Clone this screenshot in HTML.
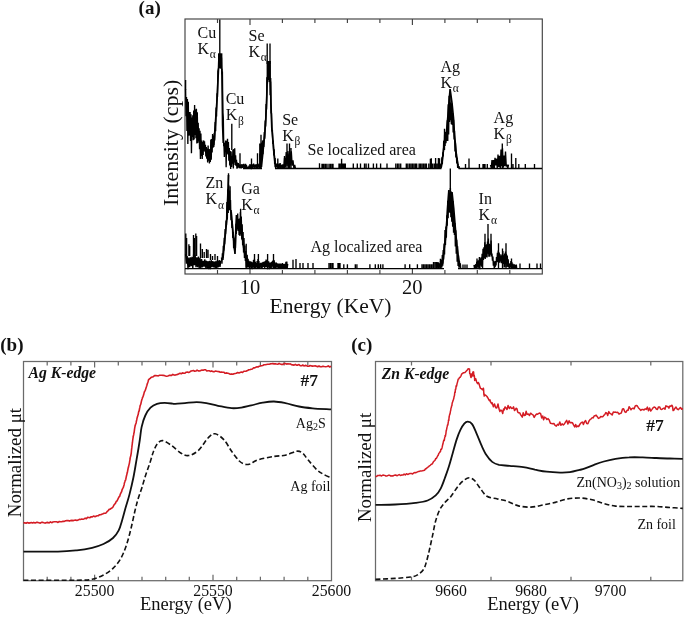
<!DOCTYPE html>
<html><head><meta charset="utf-8"><style>
html,body{margin:0;padding:0;background:#fff;}
svg{display:block;will-change:transform;}
text{font-family:"Liberation Serif",serif;fill:#111;}
</style></head><body>
<svg width="685" height="618" viewBox="0 0 685 618">
<rect x="185" y="19" width="357.29999999999995" height="255" fill="none" stroke="#404040" stroke-width="1.15"/><g stroke="#404040" stroke-width="1.15"><line x1="217.5" y1="19" x2="217.5" y2="23" /><line x1="217.5" y1="274" x2="217.5" y2="270" /><line x1="250.0" y1="19" x2="250.0" y2="25" /><line x1="250.0" y1="274" x2="250.0" y2="268" /><line x1="282.4" y1="19" x2="282.4" y2="23" /><line x1="282.4" y1="274" x2="282.4" y2="270" /><line x1="314.9" y1="19" x2="314.9" y2="23" /><line x1="314.9" y1="274" x2="314.9" y2="270" /><line x1="347.4" y1="19" x2="347.4" y2="23" /><line x1="347.4" y1="274" x2="347.4" y2="270" /><line x1="379.9" y1="19" x2="379.9" y2="23" /><line x1="379.9" y1="274" x2="379.9" y2="270" /><line x1="412.4" y1="19" x2="412.4" y2="25" /><line x1="412.4" y1="274" x2="412.4" y2="268" /><line x1="444.9" y1="19" x2="444.9" y2="23" /><line x1="444.9" y1="274" x2="444.9" y2="270" /><line x1="477.3" y1="19" x2="477.3" y2="23" /><line x1="477.3" y1="274" x2="477.3" y2="270" /><line x1="509.8" y1="19" x2="509.8" y2="23" /><line x1="509.8" y1="274" x2="509.8" y2="270" /></g><rect x="23.5" y="361.5" width="308.0" height="219.20000000000005" fill="none" stroke="#6a6a6a" stroke-width="1.25"/><g stroke="#6a6a6a" stroke-width="1.25"><line x1="47.2" y1="361.5" x2="47.2" y2="365.5" /><line x1="47.2" y1="580.7" x2="47.2" y2="576.7" /><line x1="70.9" y1="361.5" x2="70.9" y2="365.5" /><line x1="70.9" y1="580.7" x2="70.9" y2="576.7" /><line x1="94.6" y1="361.5" x2="94.6" y2="367.5" /><line x1="94.6" y1="580.7" x2="94.6" y2="574.7" /><line x1="118.3" y1="361.5" x2="118.3" y2="365.5" /><line x1="118.3" y1="580.7" x2="118.3" y2="576.7" /><line x1="142.0" y1="361.5" x2="142.0" y2="365.5" /><line x1="142.0" y1="580.7" x2="142.0" y2="576.7" /><line x1="165.7" y1="361.5" x2="165.7" y2="365.5" /><line x1="165.7" y1="580.7" x2="165.7" y2="576.7" /><line x1="189.3" y1="361.5" x2="189.3" y2="365.5" /><line x1="189.3" y1="580.7" x2="189.3" y2="576.7" /><line x1="213.0" y1="361.5" x2="213.0" y2="367.5" /><line x1="213.0" y1="580.7" x2="213.0" y2="574.7" /><line x1="236.7" y1="361.5" x2="236.7" y2="365.5" /><line x1="236.7" y1="580.7" x2="236.7" y2="576.7" /><line x1="260.4" y1="361.5" x2="260.4" y2="365.5" /><line x1="260.4" y1="580.7" x2="260.4" y2="576.7" /><line x1="284.1" y1="361.5" x2="284.1" y2="365.5" /><line x1="284.1" y1="580.7" x2="284.1" y2="576.7" /><line x1="307.8" y1="361.5" x2="307.8" y2="365.5" /><line x1="307.8" y1="580.7" x2="307.8" y2="576.7" /></g><rect x="375.5" y="361.5" width="307.29999999999995" height="219.20000000000005" fill="none" stroke="#6a6a6a" stroke-width="1.25"/><g stroke="#6a6a6a" stroke-width="1.25"><line x1="411.5" y1="361.5" x2="411.5" y2="365.5" /><line x1="411.5" y1="580.7" x2="411.5" y2="576.7" /><line x1="491" y1="361.5" x2="491" y2="365.5" /><line x1="491" y1="580.7" x2="491" y2="576.7" /><line x1="571" y1="361.5" x2="571" y2="365.5" /><line x1="571" y1="580.7" x2="571" y2="576.7" /><line x1="650.8" y1="361.5" x2="650.8" y2="365.5" /><line x1="650.8" y1="580.7" x2="650.8" y2="576.7" /></g><path d="M185.60,89.2 L186.05,116.2 L186.50,97.0 L186.95,131.1 L187.40,98.9 L187.85,144.1 L188.30,101.8 L188.75,135.8 L189.20,112.0 L189.65,135.5 L190.10,112.1 L190.55,141.0 L191.00,114.2 L191.45,153.3 L191.90,117.6 L192.35,137.0 L192.80,115.3 L193.25,140.2 L193.70,110.6 L194.15,139.6 L194.60,105.0 L195.05,135.0 L195.50,109.4 L195.95,138.3 L196.40,108.8 L196.85,143.4 L197.30,112.3 L197.75,143.1 L198.20,122.8 L198.65,141.5 L199.10,128.2 L199.55,149.3 L200.00,130.8 L200.45,159.1 L200.90,133.6 L201.35,155.9 L201.80,140.5 L202.25,159.0 L202.70,141.9 L203.15,154.9 L203.60,140.4 L204.05,150.7 L204.50,141.2 L204.95,151.8 L205.40,144.7 L205.85,156.4 L206.30,147.0 L206.75,158.6 L207.20,148.5 L207.65,162.5 L208.10,145.5 L208.55,160.7 L209.00,148.9 L209.45,163.6 L209.90,149.2 L210.35,161.9 L210.80,139.5 L211.25,159.7 L211.70,138.9 L212.15,152.6 L212.60,133.9 L213.05,147.8 L213.50,136.0" fill="none" stroke="#000" stroke-width="1.35" stroke-linejoin="bevel"/><path d="M213.40,135.5 L213.85,144.9 L214.30,133.0 L214.75,140.5 L215.20,122.0 L215.65,131.2 L216.10,107.6 L216.55,116.5 L217.00,93.2 L217.45,97.2 L217.90,71.3 L218.35,69.8 L218.80,56.1 L219.25,65.4 L219.70,54.4 L220.15,64.7 L220.60,53.9 L221.05,68.5 L221.50,57.5 L221.95,74.6 L222.40,71.4 L222.85,112.7 L223.30,117.7 L223.75,146.3" fill="none" stroke="#000" stroke-width="1.35" stroke-linejoin="bevel"/><path d="M223.90,142.4 L224.35,157.1 L224.80,142.9 L225.25,151.1 L225.70,140.5 L226.15,167.2 L226.60,140.8 L227.05,154.6 L227.50,138.7 L227.95,153.6 L228.40,142.1 L228.85,160.7 L229.30,148.1 L229.75,165.5 L230.20,151.1 L230.65,168.9 L231.10,151.5 L231.55,167.0 L232.00,156.0 L232.45,163.8 L232.90,149.8 L233.35,168.5 L233.80,149.0 L234.25,162.6 L234.70,148.3 L235.15,165.0 L235.60,155.4 L236.05,165.9 L236.50,159.9 L236.95,168.8 L237.40,162.6 L237.85,168.1 L238.30,163.1 L238.75,167.5 L239.20,164.4 L239.65,167.9 L240.10,164.4 L240.55,168.0 L241.00,164.8 L241.45,168.5 L241.90,164.1 L242.35,167.9 L242.80,164.6 L243.25,167.7 L243.70,163.9 L244.15,168.4 L244.60,164.6 L245.05,168.5 L245.50,163.8 L245.95,169.0 L246.40,164.9 L246.85,168.3 L247.30,166.8 L247.75,168.7 L248.20,166.7 L248.65,168.5 L249.10,165.6 L249.55,168.5 L250.00,164.0 L250.45,168.2 L250.90,164.8 L251.35,169.1 L251.80,164.5 L252.25,168.6 L252.70,164.4 L253.15,167.8 L253.60,163.6 L254.05,167.6 L254.50,164.6 L254.95,168.6 L255.40,164.6 L255.85,167.5 L256.30,164.2 L256.75,168.3 L257.20,164.2 L257.65,168.0 L258.10,164.4 L258.55,167.5 L259.00,163.7 L259.45,168.7" fill="none" stroke="#000" stroke-width="1.35" stroke-linejoin="bevel"/><path d="M259.80,153.8 L260.25,167.8 L260.70,151.7 L261.15,167.5 L261.60,142.6 L262.05,155.2 L262.50,140.5 L262.95,154.3 L263.40,140.1 L263.85,147.0 L264.30,132.1 L264.75,138.8 L265.20,120.6 L265.65,126.6 L266.10,103.9 L266.55,109.6 L267.00,77.1 L267.45,83.5 L267.90,64.8 L268.35,80.0 L268.80,65.5 L269.25,82.1 L269.70,64.4 L270.15,95.2 L270.60,81.5 L271.05,113.2 L271.50,113.3 L271.95,131.6 L272.40,130.0 L272.85,144.1 L273.30,140.6 L273.75,155.6 L274.20,149.2 L274.65,164.1 L275.10,158.1 L275.55,168.2 L276.00,164.2" fill="none" stroke="#000" stroke-width="1.35" stroke-linejoin="bevel"/><path d="M276.00,163.3 L276.85,167.4 L277.70,163.6 L278.55,168.6 L279.40,163.6 L280.25,167.8 L281.10,164.7 L281.95,168.6 L282.80,164.3 L283.65,168.8 L284.50,157.9 L285.35,167.7 L286.20,152.0 L287.05,165.9 L287.90,151.1 L288.75,168.6 L289.60,151.6 L290.45,165.5 L291.30,151.2 L292.15,165.6 L293.00,160.3 L293.85,168.4 L294.70,164.9 L295.55,168.9" fill="none" stroke="#000" stroke-width="1.35" stroke-linejoin="bevel"/><path d="M439.20,163.1 L439.65,169.0 L440.10,164.2 L440.55,167.8 L441.00,163.6 L441.45,167.2 L441.90,157.3 L442.35,164.1 L442.80,152.2 L443.25,156.6 L443.70,140.8 L444.15,150.1 L444.60,134.6 L445.05,146.0 L445.50,132.1 L445.95,143.1 L446.40,132.2 L446.85,141.1 L447.30,120.3 L447.75,141.0 L448.20,104.2 L448.65,134.6 L449.10,95.7 L449.55,122.1 L450.00,93.4 L450.45,120.3 L450.90,102.4 L451.35,124.3 L451.80,103.5 L452.25,125.1 L452.70,112.9 L453.15,132.4 L453.60,119.8 L454.05,139.6 L454.50,130.9 L454.95,151.5 L455.40,143.0 L455.85,157.4 L456.30,152.3 L456.75,163.5 L457.20,157.8 L457.65,167.9 L458.10,164.0 L458.55,168.2 L459.00,166.2 L459.45,168.7" fill="none" stroke="#000" stroke-width="1.35" stroke-linejoin="bevel"/><path d="M490.50,164.8 L491.25,167.9 L492.00,160.0 L492.75,168.4 L493.50,160.1 L494.25,168.5 L495.00,157.7 L495.75,165.3 L496.50,158.7 L497.25,167.9 L498.00,154.6 L498.75,167.0 L499.50,155.9 L500.25,168.6 L501.00,149.6 L501.75,166.1 L502.50,148.4 L503.25,167.8 L504.00,155.6 L504.75,166.3 L505.50,151.6 L506.25,166.4 L507.00,164.7 L507.75,168.8 L508.50,164.6" fill="none" stroke="#000" stroke-width="1.35" stroke-linejoin="bevel"/><path d="M185.60,254.2 L186.40,263.6 L187.20,256.1 L188.00,269.1 L188.80,257.6 L189.60,267.3 L190.40,257.3 L191.20,266.3 L192.00,256.8 L192.80,268.6 L193.60,254.4 L194.40,265.2 L195.20,255.2 L196.00,267.3 L196.80,257.2 L197.60,267.2 L198.40,256.5 L199.20,268.6 L200.00,257.8 L200.80,268.6 L201.60,259.1 L202.40,267.3 L203.20,260.8 L204.00,266.7 L204.80,259.3 L205.60,267.8 L206.40,260.7 L207.20,268.8 L208.00,261.0 L208.80,269.1 L209.60,260.9 L210.40,269.1 L211.20,260.2 L212.00,267.2 L212.80,261.1 L213.60,267.4 L214.40,261.5 L215.20,268.3 L216.00,260.9 L216.80,268.8 L217.60,260.8 L218.40,267.3 L219.20,260.0 L220.00,266.9 L220.80,260.7" fill="none" stroke="#000" stroke-width="1.35" stroke-linejoin="bevel"/><path d="M221.50,257.5 L221.95,263.8 L222.40,253.4 L222.85,258.0 L223.30,245.8 L223.75,250.8 L224.20,237.7 L224.65,244.3 L225.10,229.0 L225.55,234.1 L226.00,220.4 L226.45,225.3 L226.90,202.0 L227.35,219.6 L227.80,189.3 L228.25,213.0 L228.70,184.7 L229.15,209.9 L229.60,190.6 L230.05,210.4 L230.50,200.1 L230.95,220.2 L231.40,212.1 L231.85,227.9 L232.30,220.7 L232.75,238.0 L233.20,231.9 L233.65,248.2 L234.10,239.5 L234.55,250.4 L235.00,237.8 L235.45,248.0 L235.90,223.7 L236.35,233.9 L236.80,217.5 L237.25,229.4 L237.70,213.6 L238.15,231.0 L238.60,218.8 L239.05,234.9 L239.50,220.4 L239.95,236.0 L240.40,211.9 L240.85,234.5 L241.30,216.6 L241.75,239.4 L242.20,224.2 L242.65,245.3 L243.10,232.0 L243.55,252.5 L244.00,237.9 L244.45,258.1 L244.90,245.6 L245.35,261.0 L245.80,251.0 L246.25,267.6" fill="none" stroke="#000" stroke-width="1.35" stroke-linejoin="bevel"/><path d="M246.30,256.1 L246.75,266.9 L247.20,254.8 L247.65,267.6 L248.10,258.9 L248.55,267.0 L249.00,260.7 L249.45,268.7 L249.90,261.5 L250.35,267.4 L250.80,261.2 L251.25,269.0 L251.70,262.0 L252.15,269.2 L252.60,262.6 L253.05,267.0 L253.50,260.1 L253.95,268.4 L254.40,258.8 L254.85,266.6 L255.30,261.8 L255.75,267.9 L256.20,263.0 L256.65,267.2 L257.10,261.1 L257.55,268.4 L258.00,259.0 L258.45,266.8 L258.90,261.0 L259.35,269.0 L259.80,263.2 L260.25,267.4 L260.70,262.8 L261.15,268.7 L261.60,262.8 L262.05,268.6 L262.50,262.3 L262.95,267.3 L263.40,261.8 L263.85,267.0 L264.30,261.7 L264.75,268.0 L265.20,261.0 L265.65,266.9 L266.10,259.6 L266.55,266.9 L267.00,260.4 L267.45,269.2 L267.90,261.0 L268.35,266.9 L268.80,261.5 L269.25,269.1 L269.70,262.7 L270.15,268.7 L270.60,262.5 L271.05,268.1 L271.50,262.1 L271.95,267.8 L272.40,261.0 L272.85,266.4 L273.30,260.0 L273.75,268.7 L274.20,260.2 L274.65,268.0 L275.10,263.2 L275.55,268.0 L276.00,262.4 L276.45,267.6 L276.90,263.0 L277.35,267.3 L277.80,263.7 L278.25,268.8 L278.70,263.6 L279.15,268.9 L279.60,263.6 L280.05,268.1 L280.50,263.6 L280.95,268.3 L281.40,264.1 L281.85,268.8 L282.30,263.1 L282.75,269.0 L283.20,263.8 L283.65,268.8 L284.10,263.9 L284.55,268.1 L285.00,264.0 L285.45,268.9 L285.90,261.8 L286.35,268.6 L286.80,261.5 L287.25,267.9 L287.70,264.0" fill="none" stroke="#000" stroke-width="1.35" stroke-linejoin="bevel"/><path d="M436.00,262.1 L436.45,267.9 L436.90,262.7 L437.35,267.2 L437.80,262.6 L438.25,268.5 L438.70,263.0 L439.15,267.7 L439.60,263.5 L440.05,268.5 L440.50,261.3 L440.95,268.3 L441.40,259.6 L441.85,267.5 L442.30,255.1 L442.75,265.7 L443.20,249.9 L443.65,259.5 L444.10,243.6 L444.55,254.5 L445.00,230.0 L445.45,244.9 L445.90,226.6 L446.35,237.8 L446.80,215.2 L447.25,225.8 L447.70,200.7 L448.15,218.3 L448.60,190.6 L449.05,212.5 L449.50,192.4 L449.95,212.8 L450.40,187.9 L450.85,217.3 L451.30,191.5 L451.75,221.7 L452.20,197.5 L452.65,226.7 L453.10,201.0 L453.55,232.8 L454.00,213.3 L454.45,235.0 L454.90,223.1 L455.35,246.6 L455.80,230.2 L456.25,253.8 L456.70,239.8 L457.15,261.8 L457.60,246.2 L458.05,265.9 L458.50,255.2 L458.95,267.7 L459.40,260.9 L459.85,267.8 L460.30,263.3 L460.75,268.7" fill="none" stroke="#000" stroke-width="1.35" stroke-linejoin="bevel"/><path d="M474.00,264.9 L474.45,268.2 L474.90,265.0 L475.35,268.2 L475.80,264.1 L476.25,268.1 L476.70,261.9 L477.15,266.7 L477.60,260.6 L478.05,267.4 L478.50,260.4 L478.95,268.4 L479.40,257.0 L479.85,269.2 L480.30,258.4 L480.75,265.5 L481.20,257.3 L481.65,266.7 L482.10,253.8 L482.55,269.1 L483.00,248.7 L483.45,260.0 L483.90,247.3 L484.35,258.2 L484.80,242.2 L485.25,258.9 L485.70,245.1 L486.15,257.3 L486.60,244.2 L487.05,257.4 L487.50,241.4 L487.95,253.7 L488.40,238.6 L488.85,256.8 L489.30,243.7 L489.75,256.6 L490.20,244.6 L490.65,254.7 L491.10,240.5 L491.55,256.5 L492.00,253.6 L492.45,260.8 L492.90,256.6 L493.35,265.6 L493.80,260.7 L494.25,268.5 L494.70,261.5 L495.15,267.3 L495.60,261.1 L496.05,265.4 L496.50,257.1 L496.95,261.8 L497.40,252.9 L497.85,262.3 L498.30,250.6 L498.75,261.7 L499.20,252.5 L499.65,262.6 L500.10,254.2 L500.55,261.4 L501.00,255.9 L501.45,263.2 L501.90,254.6 L502.35,260.9 L502.80,251.1 L503.25,263.9 L503.70,255.2 L504.15,267.6 L504.60,253.6 L505.05,267.0 L505.50,251.5 L505.95,264.3 L506.40,253.7 L506.85,267.1 L507.30,255.5 L507.75,266.8 L508.20,259.4 L508.65,267.4 L509.10,263.7 L509.55,268.7 L510.00,263.4 L510.45,267.2 L510.90,261.0 L511.35,268.7 L511.80,262.0 L512.25,268.7 L512.70,263.5 L513.15,268.4 L513.60,264.3 L514.05,268.9 L514.50,264.4 L514.95,268.7 L515.40,265.1 L515.85,268.2 L516.30,264.6 L516.75,268.8" fill="none" stroke="#000" stroke-width="1.35" stroke-linejoin="bevel"/><path d="M185.6,90 V80.0 M219.8,56 V19.5 M267.2,64 V43.4 M270.0,64 V43.4 M231.8,150 V123.8 M240.0,168.5 V153.3 M251.5,168.5 V158.4 M257.5,168.5 V153.3 M259.8,168.5 V143.6 M261.0,168.5 V134.7 M277.8,168.5 V158.5 M280.2,168.5 V163.0 M287.0,168.5 V143.6 M289.5,168.5 V143.6 M284.5,168.5 V156.0 M291.0,168.5 V148.0 M444.5,150 V128.7 M319.5,168.5 V163.3 M322.0,168.5 V163.8 M323.0,168.5 V163.8 M324.0,168.5 V163.8 M325.5,168.5 V163.8 M327.0,168.5 V163.8 M329.0,168.5 V163.8 M330.5,168.5 V163.8 M332.0,168.5 V163.8 M333.0,168.5 V163.8 M339.0,168.5 V163.6 M340.2,168.5 V163.6 M341.6,168.5 V158.8 M342.8,168.5 V163.6 M344.0,168.5 V163.6 M345.3,168.5 V163.6 M353.3,168.5 V163.6 M357.3,168.5 V163.6 M360.5,168.5 V163.6 M364.5,168.5 V163.6 M366.1,168.5 V163.6 M368.5,168.5 V163.6 M373.4,168.5 V163.6 M376.6,168.5 V163.6 M380.6,168.5 V163.6 M387.0,168.5 V163.6 M395.8,168.5 V163.6 M397.5,168.5 V163.6 M399.0,168.5 V163.6 M400.7,168.5 V163.6 M406.3,168.5 V163.6 M407.8,168.5 V163.6 M409.5,168.5 V163.6 M411.0,168.5 V163.6 M412.5,168.5 V163.6 M414.0,168.5 V163.6 M415.5,168.5 V163.6 M416.7,168.5 V163.6 M419.1,168.5 V163.6 M420.5,168.5 V163.6 M422.0,168.5 V163.6 M423.5,168.5 V163.6 M425.0,168.5 V163.6 M426.4,168.5 V163.6 M428.8,168.5 V163.6 M430.4,168.5 V158.8 M431.3,168.5 V158.2 M432.7,168.5 V163.6 M434.4,168.5 V163.6 M435.6,168.5 V158.0 M437.0,168.5 V163.6 M438.4,168.5 V158.0 M439.5,168.5 V158.3 M465.5,168.5 V163.9 M469.0,168.5 V158.6 M479.4,168.5 V163.9 M483.0,168.5 V163.9 M484.0,168.5 V163.9 M485.0,168.5 V163.9 M487.3,168.5 V163.9 M502.3,168.5 V143.4 M511.5,168.5 V153.4 M513.0,168.5 V163.9 M515.8,168.5 V158.0 M518.8,168.5 V163.9 M525.3,168.5 V163.9 M534.5,168.5 V163.9 M185.8,256 V233.6 M186.6,256 V238.0 M188.9,256 V244.2 M189.7,256 V246.0 M193.5,256 V235.0 M194.3,256 V238.0 M195.8,256 V233.6 M196.6,256 V236.0 M200.5,258 V243.5 M202.3,258 V249.0 M204.2,258 V252.0 M206.5,258 V249.0 M208.0,258 V249.8 M210.5,260 V254.0 M212.5,260 V256.0 M215.0,260 V254.0 M217.5,262 V256.0 M228.5,200 V173.2 M230.1,210 V186.2 M240.6,225 V208.8 M246.2,268.6 V243.8 M254.5,268.6 V254.0 M258.4,268.6 V254.0 M267.6,268.6 V254.0 M273.5,268.6 V254.0 M450.3,194 V168.5 M477.0,268.6 V258.6 M485.0,250 V233.7 M488.0,250 V224.1 M491.0,250 V233.7 M498.5,268.6 V243.3 M502.5,268.6 V248.6 M506.0,268.6 V243.3 M511.5,268.6 V258.6 M293.0,268.6 V259.8 M296.0,268.6 V259.0 M300.0,268.6 V263.0 M303.0,268.6 V263.0 M308.0,268.6 V263.0 M313.0,268.6 V263.0 M329.0,268.6 V263.0 M330.5,268.6 V263.0 M332.0,268.6 V263.0 M333.0,268.6 V263.0 M338.0,268.6 V263.0 M339.0,268.6 V263.0 M340.0,268.6 V263.0 M343.8,268.6 V264.2 M347.4,268.6 V264.2 M355.3,268.6 V264.2 M356.9,268.6 V264.2 M369.9,268.6 V264.2 M375.3,268.6 V264.2 M378.3,268.6 V264.2 M380.6,268.6 V264.2 M382.9,268.6 V264.2 M405.1,268.6 V264.2 M409.7,268.6 V264.2 M417.4,268.6 V264.2 M422.0,268.6 V264.2 M423.5,268.6 V264.2 M425.0,268.6 V264.2 M426.5,268.6 V264.2 M428.0,268.6 V264.2 M429.5,268.6 V264.2 M431.0,268.6 V264.2 M432.0,268.6 V264.2 M433.5,268.6 V261.9 M435.0,268.6 V261.9 M436.5,268.6 V261.9 M438.0,268.6 V261.9 M440.4,268.6 V258.8 M463.0,268.6 V264.5 M465.0,268.6 V264.5 M467.0,268.6 V264.5 M520.0,268.6 V263.4 M529.5,268.6 V263.4 M537.0,268.6 V263.4 M540.5,268.6 V263.4 " fill="none" stroke="#000" stroke-width="1.35"/><path d="M213.6,147.0 L215.3,125.0 L217.1,98.7 L218.5,68.5 M221.9,68.5 L222.3,100.0 L222.6,125.0 L223.3,143.0 M261.4,167.0 L262.9,152.5 L264.7,134.7 L265.8,118.7 L266.8,95.6 L267.2,78.0 M270.5,78.0 L270.9,102.7 L271.8,127.6 L273.6,149.0 L275.4,167.0 M441.0,168.0 L442.3,160.0 L443.5,150.0 L445.0,138.0 L446.5,132.0 L448.0,115.0 L449.2,100.0 L450.1,89.0 M450.1,89.0 L452.0,103.0 L453.5,118.0 L454.5,135.0 L455.5,145.0 L456.4,155.0 L458.0,165.0 M222.8,260.0 L224.8,240.0 L226.9,218.5 L227.8,195.0 L228.5,175.0 M230.9,210.0 L233.0,232.0 L235.0,254.0 M235.0,254.0 L235.8,230.0 L236.5,215.0 M239.8,218.5 L242.0,235.0 L244.0,250.0 L246.3,260.6 M442.7,263.6 L444.0,250.0 L445.3,240.0 L446.5,226.0 L447.8,205.0 L449.0,190.0 M452.0,192.0 L453.7,208.0 L455.5,230.0 L457.0,246.8 L458.5,258.0 L459.6,265.3 " fill="none" stroke="#000" stroke-width="1.7" stroke-linejoin="round"/><rect x="218" y="53.3" width="4.4" height="15.2" fill="#000"/><rect x="266.6" y="61" width="4.3" height="17" fill="#000"/><path d="M243,168.5 H262 M275,168.5 H441.5 M458.5,168.5 H542 M185,268.6 H444 M458,268.6 H542 " fill="none" stroke="#000" stroke-width="1.4"/><path d="M23.5,551.6 C29.2,551.6 49.1,551.8 58.0,551.6 C66.9,551.4 71.2,550.9 76.9,550.3 C82.6,549.7 87.7,548.8 92.1,547.8 C96.5,546.8 100.0,545.6 103.5,544.0 C107.0,542.4 110.5,540.3 113.0,538.0 C115.5,535.7 117.2,533.4 118.7,530.4 C120.2,527.4 121.1,523.7 122.2,520.0 C123.3,516.3 124.3,512.3 125.5,508.0 C126.7,503.7 128.2,499.5 129.5,494.4 C130.8,489.3 132.2,483.3 133.4,477.5 C134.6,471.7 135.5,465.6 136.6,459.4 C137.7,453.1 139.0,445.4 139.8,440.0 C140.6,434.6 140.7,431.2 141.6,427.1 C142.5,423.0 143.8,418.7 145.3,415.5 C146.8,412.3 148.6,409.6 150.5,407.7 C152.4,405.8 154.6,404.6 157.0,403.8 C159.4,403.0 162.1,402.9 164.7,402.9 C167.3,402.9 170.8,403.4 172.5,403.6 C174.2,403.8 173.1,404.0 175.2,403.9 C177.3,403.8 181.4,403.4 185.0,403.1 C188.6,402.8 193.0,402.1 196.6,402.1 C200.2,402.1 202.7,402.5 206.3,403.1 C209.9,403.7 213.8,405.0 218.0,405.8 C222.2,406.6 227.7,407.9 231.6,408.2 C235.5,408.5 238.0,408.1 241.3,407.6 C244.6,407.1 247.7,406.2 251.3,405.4 C254.9,404.6 258.9,403.2 262.7,402.6 C266.5,402.0 270.2,401.4 274.0,401.5 C277.8,401.6 281.2,402.3 285.4,403.1 C289.6,403.9 294.5,405.6 299.0,406.5 C303.5,407.4 307.3,407.8 312.6,408.3 C317.9,408.8 327.9,409.2 331.0,409.4" fill="none" stroke="#111" stroke-width="1.8"/><path d="M23.5,580.2 C32.4,580.2 65.6,580.4 77.0,580.2 C88.4,580.1 87.7,580.2 92.1,579.3 C96.5,578.4 100.0,576.8 103.5,575.0 C107.0,573.2 110.2,571.0 113.0,568.3 C115.8,565.6 118.4,562.6 120.6,558.8 C122.8,555.0 124.6,550.5 126.3,545.5 C128.0,540.5 129.6,534.2 131.0,528.5 C132.4,522.8 133.8,515.8 134.9,511.0 C136.1,506.2 136.8,503.4 137.9,499.5 C139.1,495.6 140.5,492.0 141.8,487.9 C143.1,483.8 144.3,479.3 145.7,475.0 C147.1,470.7 148.9,465.9 150.2,462.0 C151.5,458.1 152.2,454.7 153.4,451.7 C154.6,448.7 155.8,445.8 157.3,443.9 C158.8,442.0 160.2,440.4 162.5,440.6 C164.8,440.9 168.3,443.3 171.4,445.4 C174.5,447.5 178.2,451.5 181.1,453.2 C184.0,454.9 185.9,456.0 188.8,455.5 C191.7,455.0 195.2,453.3 198.5,450.3 C201.8,447.3 205.6,440.4 208.3,437.7 C211.1,434.9 212.4,433.5 215.0,433.8 C217.6,434.1 221.0,436.7 223.8,439.6 C226.6,442.5 229.0,447.7 231.6,451.3 C234.2,454.9 237.1,458.8 239.3,461.0 C241.6,463.2 243.3,463.8 245.1,464.3 C246.9,464.8 247.8,464.6 250.0,463.9 C252.2,463.1 254.1,461.1 258.1,459.8 C262.1,458.6 269.4,457.2 274.0,456.4 C278.6,455.6 281.6,456.1 285.4,455.2 C289.2,454.3 293.9,451.6 296.7,451.2 C299.5,450.8 300.5,451.6 302.4,453.0 C304.3,454.4 305.6,457.0 308.0,459.8 C310.4,462.6 314.5,467.6 317.1,470.0 C319.8,472.4 321.6,473.2 323.9,474.5 C326.2,475.8 329.8,477.3 331.0,477.9" fill="none" stroke="#111" stroke-width="1.6" stroke-dasharray="5 2.6"/><path d="M23.5,522.9 L24.8,522.7 L26.1,523.2 L27.4,522.5 L28.7,523.1 L30.0,522.9 L31.2,522.5 L32.5,523.0 L33.8,522.4 L35.1,522.9 L36.4,522.4 L37.7,522.4 L39.0,522.8 L40.3,523.2 L41.5,522.3 L42.8,522.4 L44.1,522.8 L45.3,523.1 L46.6,522.6 L47.9,522.4 L49.1,523.0 L50.4,521.8 L51.7,522.7 L52.9,522.0 L54.2,521.8 L55.5,521.7 L56.7,521.8 L58.0,522.4 L59.3,521.5 L60.5,521.8 L61.8,521.8 L63.0,521.3 L64.3,521.4 L65.6,520.7 L66.8,520.6 L68.1,520.6 L69.3,521.1 L70.6,520.6 L71.9,520.4 L73.1,520.6 L74.4,520.3 L75.6,520.0 L76.9,520.5 L78.1,520.1 L79.3,519.3 L80.5,519.5 L81.7,519.1 L82.9,519.3 L84.0,518.9 L85.2,518.1 L86.4,518.7 L87.6,517.4 L88.8,517.5 L90.0,517.7 L91.2,516.7 L92.4,516.9 L93.5,516.1 L94.7,516.6 L95.9,516.4 L97.1,515.8 L98.3,515.8 L99.5,514.7 L100.7,514.7 L101.8,514.2 L103.0,513.8 L104.2,513.2 L105.4,513.3 L106.4,512.6 L107.3,511.3 L108.2,510.7 L109.2,509.2 L110.2,509.2 L111.1,508.4 L112.0,508.0 L113.0,507.0 L113.8,505.2 L114.6,504.2 L115.4,503.4 L116.2,501.5 L117.0,501.0 L117.8,499.3 L118.5,497.9 L119.3,496.5 L119.8,496.2 L120.2,494.3 L120.7,493.3 L121.2,492.3 L121.6,491.8 L122.1,489.7 L122.5,489.0 L123.0,488.0 L123.4,487.2 L123.7,486.0 L124.1,484.9 L124.4,483.0 L124.8,482.0 L125.1,480.8 L125.5,480.3 L125.8,479.2 L126.2,477.1 L126.5,475.8 L126.8,474.6 L127.1,473.3 L127.4,472.3 L127.6,471.2 L127.9,469.5 L128.2,467.9 L128.5,467.1 L128.8,465.7 L129.0,464.8 L129.2,464.1 L129.5,462.6 L129.7,461.2 L129.9,460.1 L130.1,459.0 L130.3,457.1 L130.5,456.9 L130.8,455.6 L131.0,454.5 L131.2,453.3 L131.4,451.5 L131.5,450.2 L131.7,448.6 L131.8,447.9 L132.0,445.9 L132.2,444.6 L132.3,443.5 L132.5,442.2 L132.6,441.1 L132.8,439.5 L133.0,438.1 L133.2,437.0 L133.4,435.7 L133.7,434.7 L133.9,433.0 L134.1,432.7 L134.3,431.1 L134.5,429.3 L134.7,428.1 L134.9,426.9 L135.2,425.8 L135.5,424.3 L135.8,424.0 L136.1,423.0 L136.4,421.2 L136.7,420.0 L137.0,418.4 L137.3,417.2 L137.6,416.4 L137.9,415.1 L138.2,414.6 L138.5,412.6 L138.8,411.3 L139.1,411.2 L139.4,409.5 L139.7,407.9 L139.9,407.2 L140.2,405.4 L140.5,404.8 L140.8,404.1 L141.1,402.8 L141.4,401.4 L141.8,399.8 L142.2,398.7 L142.6,397.3 L143.0,396.9 L143.4,395.4 L143.7,394.6 L144.1,392.9 L144.5,391.6 L144.9,391.1 L145.3,390.2 L145.7,388.9 L146.1,387.7 L146.5,386.6 L146.9,385.3 L147.3,383.6 L147.7,382.8 L148.1,381.5 L148.5,379.9 L149.3,379.0 L150.2,378.4 L151.0,377.5 L151.8,377.1 L153.1,376.8 L154.5,375.6 L155.8,375.6 L157.1,375.8 L158.3,375.9 L159.5,375.3 L160.7,375.2 L161.9,375.3 L163.1,375.4 L164.3,375.5 L165.5,376.0 L166.7,376.2 L167.9,376.0 L169.1,375.4 L170.3,375.4 L171.6,375.4 L172.8,374.4 L174.0,375.0 L175.2,375.1 L176.4,374.7 L177.6,374.4 L178.9,373.8 L180.1,373.2 L181.3,373.7 L182.6,372.9 L183.8,373.2 L185.0,373.2 L186.2,372.2 L187.4,372.0 L188.6,372.4 L189.8,371.9 L191.1,371.0 L192.3,370.7 L193.5,370.5 L194.7,371.2 L195.9,371.0 L197.1,370.1 L198.3,370.9 L199.6,371.0 L200.8,370.5 L202.0,370.1 L203.2,370.2 L204.4,369.7 L205.6,369.7 L206.8,371.0 L208.0,370.7 L209.2,370.7 L210.5,371.4 L211.7,370.9 L212.9,371.6 L214.1,371.7 L215.3,371.1 L216.5,371.3 L217.7,371.5 L218.9,371.6 L220.2,372.2 L221.4,372.0 L222.6,372.3 L223.8,372.2 L225.1,373.3 L226.4,372.9 L227.7,373.2 L229.0,373.6 L230.3,374.3 L231.6,373.9 L232.8,374.3 L234.0,373.7 L235.2,373.5 L236.4,373.3 L237.7,372.5 L238.9,372.9 L240.1,372.4 L241.3,372.0 L242.6,372.5 L243.8,371.3 L245.1,371.3 L246.3,371.1 L247.6,370.5 L248.8,369.8 L250.1,369.6 L251.3,369.2 L252.4,369.0 L253.6,367.8 L254.7,367.9 L255.9,367.2 L257.0,366.8 L258.1,367.0 L259.3,366.2 L260.4,365.9 L261.6,365.7 L262.7,365.5 L264.0,364.8 L265.2,364.8 L266.5,364.5 L267.7,364.3 L269.0,364.3 L270.2,363.9 L271.5,363.8 L272.7,363.6 L274.0,363.9 L275.3,363.7 L276.5,364.0 L277.8,364.2 L279.1,363.4 L280.3,363.9 L281.6,364.4 L282.9,364.4 L284.1,363.6 L285.4,363.6 L286.6,364.1 L287.9,363.8 L289.1,364.0 L290.3,363.9 L291.6,364.7 L292.8,364.9 L294.1,365.1 L295.3,364.3 L296.5,365.1 L297.8,365.1 L299.0,364.6 L300.2,365.6 L301.5,365.8 L302.7,365.0 L303.9,365.9 L305.2,365.4 L306.4,365.6 L307.7,366.3 L308.9,366.2 L310.1,365.5 L311.4,365.9 L312.6,366.1 L313.9,366.0 L315.2,365.9 L316.5,366.2 L317.7,366.8 L319.0,366.0 L320.3,366.8 L321.6,366.7 L322.9,366.2 L324.3,366.5 L325.6,366.7 L327.0,366.5 L328.3,365.9 L329.7,367.0 L331.0,366.3" fill="none" stroke="#d41c24" stroke-width="1.6" stroke-linejoin="round"/><path d="M375.5,504.9 C378.8,504.8 388.5,504.8 395.2,504.5 C401.9,504.2 410.1,503.6 415.5,502.9 C420.9,502.2 424.2,501.8 427.6,500.5 C431.0,499.2 433.5,497.4 435.7,495.4 C437.9,493.4 439.3,491.2 440.8,488.3 C442.3,485.4 443.5,481.8 444.8,478.2 C446.1,474.6 447.5,471.0 448.8,466.8 C450.1,462.6 451.4,457.7 452.7,453.2 C454.0,448.7 455.3,443.5 456.6,439.6 C457.9,435.7 459.1,432.5 460.4,429.9 C461.7,427.2 463.1,425.1 464.3,423.7 C465.5,422.3 466.5,421.6 467.8,421.7 C469.1,421.8 470.6,422.1 472.1,424.1 C473.6,426.1 475.1,430.2 476.7,433.8 C478.3,437.4 479.9,441.8 481.5,445.4 C483.1,448.9 484.6,452.4 486.4,455.1 C488.2,457.9 490.1,460.3 492.2,461.9 C494.3,463.5 496.1,464.2 499.0,464.9 C501.9,465.5 505.6,465.4 509.7,465.8 C513.8,466.2 519.1,466.6 523.3,467.2 C527.5,467.8 531.0,468.9 534.9,469.7 C538.8,470.4 542.4,471.2 546.6,471.7 C550.8,472.2 556.2,472.5 560.1,472.6 C564.0,472.7 566.6,472.6 569.9,472.2 C573.1,471.8 577.2,470.5 579.6,469.9 C582.0,469.3 582.0,469.5 584.4,468.6 C586.8,467.8 590.9,466.0 594.1,464.8 C597.3,463.6 600.2,462.5 603.8,461.5 C607.4,460.5 611.3,459.6 615.5,458.9 C619.7,458.2 624.6,457.6 629.1,457.4 C633.6,457.1 638.2,457.3 642.7,457.4 C647.2,457.5 651.8,457.8 656.3,458.0 C660.8,458.2 665.5,458.4 669.9,458.5 C674.3,458.6 680.6,458.8 682.8,458.9" fill="none" stroke="#111" stroke-width="1.8"/><path d="M375.5,579.4 C378.8,579.2 389.4,578.8 395.2,578.4 C401.0,578.0 406.7,577.6 410.4,577.0 C414.1,576.4 415.3,576.2 417.5,574.9 C419.7,573.6 422.1,571.6 423.6,569.3 C425.1,567.0 425.6,564.6 426.6,561.2 C427.6,557.8 428.6,553.4 429.6,549.0 C430.6,544.6 431.7,539.6 432.7,534.9 C433.7,530.2 434.5,524.9 435.7,520.7 C436.9,516.5 438.3,512.6 439.8,509.6 C441.3,506.6 443.0,504.7 444.8,502.5 C446.6,500.3 448.7,499.1 450.9,496.4 C453.1,493.7 455.8,489.0 458.0,486.3 C460.2,483.6 462.1,481.6 464.0,480.2 C465.9,478.8 467.4,477.8 469.1,477.8 C470.8,477.8 472.4,478.4 474.2,480.2 C476.0,481.9 478.1,485.6 480.2,488.3 C482.3,491.0 484.1,494.5 487.0,496.3 C489.9,498.1 494.0,498.0 497.5,498.9 C501.0,499.8 504.5,500.3 508.0,501.5 C511.5,502.7 514.7,505.0 518.5,505.9 C522.3,506.8 526.7,507.2 530.8,507.1 C534.9,507.0 539.0,505.8 543.1,505.0 C547.2,504.2 551.2,503.4 555.3,502.4 C559.4,501.4 563.5,499.6 567.6,498.9 C571.7,498.2 575.8,497.9 579.9,498.0 C584.0,498.1 588.1,498.9 592.1,499.8 C596.1,500.7 599.9,502.6 603.8,503.6 C607.7,504.7 611.3,505.6 615.5,506.1 C619.7,506.6 624.6,506.4 629.1,506.5 C633.6,506.6 638.2,506.5 642.7,506.5 C647.2,506.5 651.8,506.3 656.3,506.5 C660.8,506.7 665.5,507.2 669.9,507.5 C674.3,507.8 680.6,508.2 682.8,508.4" fill="none" stroke="#111" stroke-width="1.6" stroke-dasharray="5 2.6"/><path d="M375.5,476.3 L376.6,476.5 L377.8,475.4 L378.9,475.5 L380.1,475.2 L381.2,476.0 L382.4,475.3 L383.6,475.1 L384.7,475.4 L385.9,476.0 L387.1,475.9 L388.3,475.3 L389.5,475.2 L390.8,476.1 L392.0,475.7 L393.2,475.9 L394.4,475.2 L395.6,475.0 L396.8,475.7 L398.0,475.2 L399.2,474.6 L400.5,475.5 L401.7,475.0 L402.9,475.1 L404.1,474.1 L405.3,474.9 L406.5,473.7 L407.7,474.5 L409.0,473.8 L410.2,473.5 L411.4,473.6 L412.6,473.9 L413.8,472.9 L414.9,472.5 L416.0,472.7 L417.0,472.1 L418.1,471.6 L419.2,471.4 L420.3,471.0 L421.3,470.9 L422.4,470.8 L423.5,470.5 L424.5,470.3 L425.4,469.0 L426.4,468.5 L427.4,467.4 L428.4,466.9 L429.4,465.8 L430.3,465.3 L431.3,464.3 L432.0,464.2 L432.8,463.0 L433.5,461.6 L434.2,461.0 L434.9,460.5 L435.7,458.6 L436.4,458.5 L437.1,457.0 L437.6,456.0 L438.2,455.3 L438.7,453.7 L439.3,452.8 L439.8,451.9 L440.4,451.8 L440.9,449.2 L441.5,449.3 L442.0,447.9 L442.3,446.6 L442.6,445.0 L443.0,443.8 L443.3,442.0 L443.6,441.1 L443.9,439.9 L444.3,440.4 L444.6,438.2 L444.9,436.9 L445.1,435.6 L445.4,436.3 L445.6,435.2 L445.9,433.6 L446.1,431.5 L446.4,430.3 L446.6,429.3 L446.8,428.5 L447.1,426.7 L447.3,426.2 L447.6,424.7 L447.8,425.2 L448.0,424.1 L448.3,421.9 L448.5,420.1 L448.8,420.7 L449.0,418.0 L449.2,417.0 L449.5,415.0 L449.7,414.7 L450.0,413.8 L450.2,412.8 L450.5,410.9 L450.7,410.5 L451.0,408.1 L451.3,407.6 L451.6,406.0 L451.9,405.6 L452.1,403.6 L452.4,402.3 L452.7,401.8 L453.0,400.5 L453.3,400.2 L453.6,398.9 L453.8,398.3 L454.0,397.0 L454.3,396.1 L454.5,395.4 L454.7,393.1 L454.9,391.9 L455.2,392.4 L455.4,389.3 L455.6,389.6 L455.9,388.3 L456.1,385.8 L456.4,386.6 L456.7,385.6 L457.0,383.9 L457.2,383.1 L457.5,382.1 L458.2,379.2 L458.8,378.9 L459.5,377.5 L460.1,377.3 L460.7,376.3 L461.2,375.3 L461.8,373.8 L462.4,373.5 L463.7,372.7 L465.0,372.5 L466.3,371.1 L467.3,369.9 L468.2,368.7 L469.2,369.1 L469.5,369.0 L469.7,373.5 L470.0,373.3 L470.3,374.7 L470.6,375.9 L470.8,377.2 L471.1,377.5 L471.5,374.1 L471.9,376.5 L472.3,375.2 L472.7,372.9 L473.1,371.9 L473.3,373.5 L473.6,371.9 L473.8,376.1 L474.0,375.0 L474.2,375.2 L474.5,377.2 L474.7,380.5 L475.7,378.7 L476.6,381.8 L477.6,383.6 L478.2,382.5 L478.8,383.2 L479.3,384.8 L479.9,386.9 L480.5,388.4 L481.5,388.7 L482.4,389.8 L483.4,388.2 L483.6,389.6 L483.7,391.2 L483.9,394.6 L484.1,393.7 L484.2,396.1 L484.4,394.7 L485.7,395.2 L487.0,396.5 L488.3,398.7 L488.9,399.8 L489.4,400.7 L490.0,399.9 L490.5,401.9 L491.1,402.6 L491.6,403.6 L492.2,402.9 L493.4,406.8 L494.5,403.9 L495.7,407.8 L496.8,407.9 L498.0,404.0 L498.6,407.0 L499.3,409.7 L499.9,411.5 L500.6,410.1 L501.2,410.3 L501.9,411.1 L502.7,413.5 L503.5,409.1 L504.2,409.9 L505.0,406.9 L505.8,407.7 L507.0,409.5 L508.1,405.5 L509.3,408.5 L510.4,406.8 L511.6,408.4 L512.6,408.3 L513.5,406.8 L514.5,410.6 L515.5,409.4 L516.2,408.2 L517.0,408.9 L517.7,412.0 L518.4,412.7 L519.1,412.8 L519.8,412.9 L520.6,414.7 L521.3,415.5 L522.3,417.2 L523.2,412.7 L524.2,415.5 L525.2,415.3 L526.1,411.3 L527.1,414.4 L528.3,414.0 L529.5,415.4 L530.6,413.2 L531.8,414.1 L533.0,414.8 L534.2,417.4 L535.3,415.4 L536.5,414.1 L537.6,414.2 L538.8,413.4 L539.8,413.0 L540.7,413.9 L541.7,417.9 L542.7,416.0 L543.6,419.7 L544.6,417.1 L545.8,417.8 L546.9,419.5 L548.1,418.6 L549.2,420.0 L550.4,423.3 L551.6,423.5 L552.8,423.8 L553.9,423.5 L555.1,425.4 L556.3,426.1 L557.5,424.3 L558.6,425.1 L559.8,422.0 L560.9,425.2 L562.1,423.9 L563.3,424.9 L564.4,424.0 L565.6,421.9 L566.7,420.4 L567.9,424.1 L569.1,420.8 L570.2,422.8 L571.4,422.6 L572.5,422.8 L573.7,425.2 L574.7,427.0 L575.7,424.4 L576.6,426.9 L577.6,426.0 L578.6,426.5 L579.5,425.0 L580.5,423.3 L581.5,422.5 L582.5,422.1 L583.4,424.6 L584.4,422.0 L585.6,420.5 L586.7,423.5 L587.9,423.7 L589.0,421.0 L590.2,419.4 L591.2,418.9 L592.2,417.6 L593.2,417.9 L594.1,416.0 L595.1,415.8 L596.1,415.1 L597.3,416.7 L598.4,418.4 L599.6,417.9 L600.7,416.6 L601.9,416.8 L602.9,416.7 L603.8,415.3 L604.8,414.5 L605.8,412.6 L606.7,412.9 L607.7,415.5 L608.8,411.6 L609.9,413.3 L611.0,413.9 L612.2,415.0 L613.3,412.0 L614.4,412.2 L615.5,412.1 L616.7,412.5 L617.8,412.3 L619.0,414.2 L620.1,413.4 L621.3,413.1 L622.5,409.0 L623.6,408.8 L624.8,411.8 L625.9,412.4 L627.1,410.3 L628.1,410.2 L629.1,406.8 L630.0,408.0 L631.0,409.8 L632.0,408.6 L633.0,408.1 L634.1,408.9 L635.2,405.9 L636.3,405.5 L637.4,406.0 L638.5,408.0 L639.6,409.0 L640.7,410.4 L641.8,409.6 L642.9,409.4 L644.0,410.0 L645.2,408.8 L646.3,409.4 L647.4,407.1 L648.5,410.7 L649.6,408.0 L650.7,411.0 L651.8,409.6 L653.0,407.9 L654.1,407.0 L655.2,407.4 L656.3,409.0 L657.4,409.5 L658.5,406.9 L659.6,406.9 L660.7,409.1 L661.8,409.5 L662.9,408.7 L664.0,408.1 L665.0,409.2 L665.9,405.8 L666.9,406.4 L667.9,406.5 L668.9,408.1 L669.8,406.0 L670.8,406.4 L671.4,405.4 L672.0,405.3 L672.5,406.3 L673.1,410.6 L673.7,410.3 L674.8,408.4 L676.0,407.0 L677.1,409.0 L678.2,409.7 L679.4,408.4 L680.5,407.5 L681.7,409.3 L682.8,408.4" fill="none" stroke="#d41c24" stroke-width="1.5" stroke-linejoin="round"/>
<text x="138.6" y="14" font-size="19" font-weight="bold">(a)</text><text x="0.3" y="351.2" font-size="19" font-weight="bold">(b)</text><text x="351.2" y="351.2" font-size="19" font-weight="bold">(c)</text><text x="250" y="293.5" font-size="20.5" text-anchor="middle">10</text><text x="412.3" y="293.5" font-size="20.5" text-anchor="middle">20</text><text x="330.5" y="312.5" font-size="21.5" text-anchor="middle">Energy (KeV)</text><text x="178" y="142.8" font-size="22" text-anchor="middle" transform="rotate(-90 178 142.8)">Intensity (cps)</text><text x="197.5" y="38.0" font-size="16" >Cu</text><text x="197.5" y="54.0" font-size="16">K<tspan font-size="11.5" dx="0.8" dy="4.3">α</tspan></text><text x="248.5" y="40.6" font-size="16" >Se</text><text x="248.5" y="56.6" font-size="16">K<tspan font-size="11.5" dx="0.8" dy="4.3">α</tspan></text><text x="225.7" y="104.2" font-size="16" >Cu</text><text x="225.7" y="120.2" font-size="16">K<tspan font-size="11.5" dx="0.8" dy="4.3">β</tspan></text><text x="282.2" y="124.60000000000001" font-size="16" >Se</text><text x="282.2" y="140.60000000000002" font-size="16">K<tspan font-size="11.5" dx="0.8" dy="4.3">β</tspan></text><text x="440.4" y="71.60000000000001" font-size="16" >Ag</text><text x="440.4" y="87.60000000000001" font-size="16">K<tspan font-size="11.5" dx="0.8" dy="4.3">α</tspan></text><text x="493.6" y="122.8" font-size="16" >Ag</text><text x="493.6" y="138.8" font-size="16">K<tspan font-size="11.5" dx="0.8" dy="4.3">β</tspan></text><text x="205.6" y="188.39999999999998" font-size="16" >Zn</text><text x="205.6" y="204.39999999999998" font-size="16">K<tspan font-size="11.5" dx="0.8" dy="4.3">α</tspan></text><text x="241.2" y="193.6" font-size="16" >Ga</text><text x="241.2" y="209.6" font-size="16">K<tspan font-size="11.5" dx="0.8" dy="4.3">α</tspan></text><text x="478.6" y="204.1" font-size="16" >In</text><text x="478.6" y="220.1" font-size="16">K<tspan font-size="11.5" dx="0.8" dy="4.3">α</tspan></text><text x="307.5" y="154.8" font-size="16" >Se localized area</text><text x="310.5" y="252.3" font-size="16" >Ag localized area</text><text x="28.5" y="378.1" font-size="15.7" font-weight="bold" font-style="italic">Ag K-edge</text><text x="300.5" y="385.8" font-size="17.5" font-weight="bold">#7</text><text x="295.8" y="427.6" font-size="14">Ag<tspan font-size="10" dy="2.5">2</tspan><tspan dy="-2.5">S</tspan></text><text x="290.3" y="491" font-size="14" >Ag foil</text><text x="94.6" y="595.8" font-size="15.8" text-anchor="middle">25500</text><text x="213" y="595.8" font-size="15.8" text-anchor="middle">25550</text><text x="331.5" y="595.8" font-size="15.8" text-anchor="middle">25600</text><text x="185.8" y="609.8" font-size="18.5" text-anchor="middle">Energy (eV)</text><text x="21" y="462.6" font-size="18.9" text-anchor="middle" transform="rotate(-90 21 462.6)">Normalized μt</text><text x="381.7" y="378.6" font-size="15.7" font-weight="bold" font-style="italic">Zn K-edge</text><text x="646.2" y="430.8" font-size="17.5" font-weight="bold">#7</text><text x="576.5" y="486.7" font-size="14">Zn(NO<tspan font-size="10" dy="2.5">3</tspan><tspan dy="-2.5">)</tspan><tspan font-size="10" dy="2.5">2</tspan><tspan dy="-2.5"> solution</tspan></text><text x="637.4" y="528.8" font-size="14" >Zn foil</text><text x="451" y="595.8" font-size="15.8" text-anchor="middle">9660</text><text x="531" y="595.8" font-size="15.8" text-anchor="middle">9680</text><text x="610.5" y="595.8" font-size="15.8" text-anchor="middle">9700</text><text x="533" y="609.8" font-size="18.5" text-anchor="middle">Energy (eV)</text><text x="370.8" y="467.4" font-size="18.9" text-anchor="middle" transform="rotate(-90 370.8 467.4)">Normalized μt</text>
</svg>
</body></html>
